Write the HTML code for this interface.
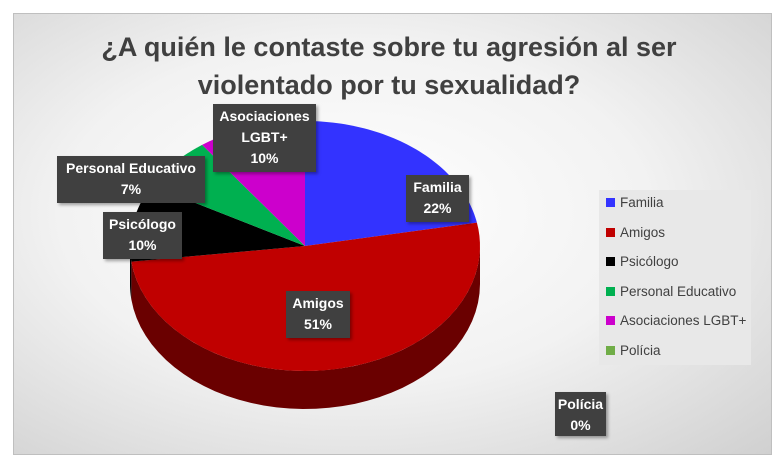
<!DOCTYPE html>
<html><head><meta charset="utf-8"><style>
body{margin:0;width:778px;height:468px;background:#fff;font-family:"Liberation Sans",Calibri,sans-serif;overflow:hidden}
#chart{position:absolute;left:13px;top:13px;width:757px;height:440px;border:1px solid #bfbfbf;background:radial-gradient(ellipse at 45% 45%,#ffffff 0%,#f2f2f2 50%,#d0d0d0 100%)}
.lbl{position:absolute;background:#404040;color:#fff;font-weight:bold;font-size:14px;text-align:center;line-height:21px;box-shadow:2px 2px 3px rgba(0,0,0,.35)}
#legend{position:absolute;left:599px;top:190px;width:152px;height:175px;background:#e8e8e8}
.le{position:absolute;left:7px;font-size:13.5px;color:#404040;white-space:nowrap}
.le span{display:inline-block;width:9px;height:9px;margin-right:5px;vertical-align:0}
</style></head><body>
<div id="chart"></div>
<div style="position:absolute;left:0;width:778px;top:28px;text-align:center;font-weight:bold;font-size:27px;line-height:38px;color:#404040">¿A quién le contaste sobre tu agresión al ser<br>violentado por tu sexualidad?</div>
<svg id="pie" width="778" height="468" style="position:absolute;left:0;top:0"></svg>
<div id="legend"></div>
<div id="labels"></div>
<script>
const categories=["Familia","Amigos","Psicólogo","Personal Educativo","Asociaciones LGBT+","Polícia"];
const values=[22,51,10,7,10,0];
const colors=["#3333ff","#c00000","#000000","#00b050","#cc00cc","#70ad47"];
const sideColors=["#1a1a99","#6a0000","#000000","#006030","#700070","#3d6027"];
const NS="http://www.w3.org/2000/svg";
const svg=document.getElementById('pie');
const cx=305,cy=246,rx=175,ry=125,depth=38;
const total=values.reduce((a,b)=>a+b,0);
function pt(a,dy){return [cx+rx*Math.sin(a),cy-ry*Math.cos(a)+(dy||0)];}
let start=0;const angs=[];
values.forEach(v=>{const e=start+v/total*2*Math.PI;angs.push([start,e]);start=e;});
// sides
angs.forEach(([s,e],i)=>{
  const a0=Math.max(s,Math.PI/2),a1=Math.min(e,3*Math.PI/2);
  if(a1<=a0)return;
  let d="";const n=40;
  for(let k=0;k<=n;k++){const p=pt(a0+(a1-a0)*k/n);d+=(k?"L":"M")+p[0]+" "+p[1];}
  for(let k=n;k>=0;k--){const p=pt(a0+(a1-a0)*k/n,depth);d+="L"+p[0]+" "+p[1];}
  const p=document.createElementNS(NS,'path');
  p.setAttribute('d',d+"Z");p.setAttribute('fill',sideColors[i]);
  
  
  svg.appendChild(p);
});
// tops
angs.forEach(([s,e],i)=>{
  if(e-s<=0)return;
  let d="M"+cx+" "+cy;const n=60;
  for(let k=0;k<=n;k++){const p=pt(s+(e-s)*k/n);d+="L"+p[0]+" "+p[1];}
  const p=document.createElementNS(NS,'path');
  p.setAttribute('d',d+"Z");p.setAttribute('fill',colors[i]);
  
  
  svg.appendChild(p);
});
// legend
const lg=document.getElementById('legend');
categories.forEach((c,i)=>{
  const d=document.createElement('div');d.className='le';d.style.top=(5+i*29.5)+'px';
  d.innerHTML='<span style="background:'+colors[i]+'"></span>'+c;
  
  
  lg.appendChild(d);
});
// labels
const boxes=[[406,175,63,47],[286,291,64,47],[103,212,79,47],[57,156,148,47],[213,104,103,68],[555,392,51,44]];
const lt=["Familia","Amigos","Psicólogo","Personal Educativo","Asociaciones<br>LGBT+","Polícia"];
const L=document.getElementById('labels');
boxes.forEach((b,i)=>{
  const d=document.createElement('div');d.className='lbl';
  d.style.cssText+='left:'+b[0]+'px;top:'+b[1]+'px;width:'+b[2]+'px;height:'+b[3]+'px;padding-top:2px;box-sizing:border-box';
  d.innerHTML=lt[i]+'<br>'+values[i]+'%';
  
  
  L.appendChild(d);
});
</script>
</body></html>
